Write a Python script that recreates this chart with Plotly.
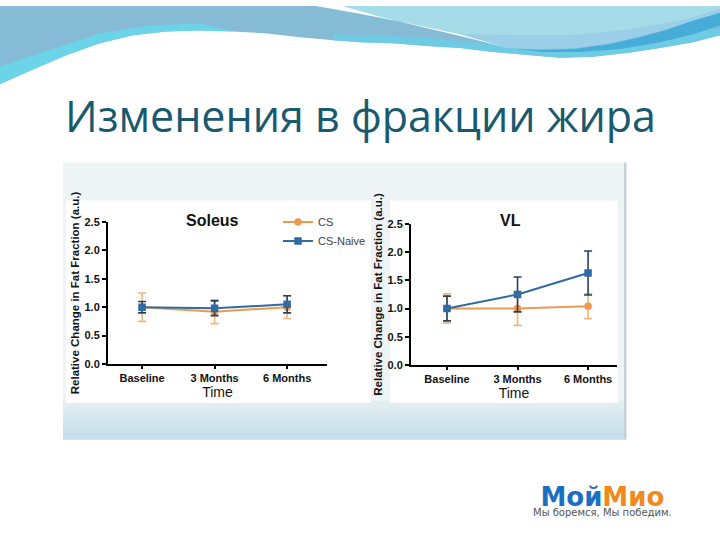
import plotly.graph_objects as go

# ---------------- data ----------------
categories = ["Baseline", "3 Months", "6 Months"]

soleus_cs = [1.00, 0.92, 1.00]
soleus_cs_err = [0.25, 0.21, 0.20]
soleus_naive = [1.00, 0.98, 1.05]
soleus_naive_err = [0.10, 0.13, 0.15]

vl_cs = [1.00, 1.00, 1.04]
vl_cs_err = [0.26, 0.30, 0.22]
vl_naive = [1.00, 1.25, 1.63]
vl_naive_err = [0.22, 0.31, 0.39]

series_names = ["CS", "CS-Naive"]
panel_titles = ["Soleus", "VL"]
slide_title = "Изменения в фракции жира"
y_title = "Relative Change in Fat Fraction (a.u.)"
x_title = "Time"
y_ticks = [0.0, 0.5, 1.0, 1.5, 2.0, 2.5]

# ---------------- styles ----------------
W, H = 720, 540
CS_COLOR = "#ec9a52"
CS_ERR = "#f3b57c"
NAIVE_COLOR = "#2f6aa3"
NAIVE_ERR = "#27415e"
FONT = "Liberation Sans"


def X(px):
    return px / W


def Y(py):
    return 1 - py / H


def poly(pts):
    s = "M " + " L ".join(f"{X(a):.5f},{Y(b):.5f}" for a, b in pts)
    return s + " Z"


fig = go.Figure()

panels = [
    (soleus_cs, soleus_cs_err, soleus_naive, soleus_naive_err, "x", "y", True),
    (vl_cs, vl_cs_err, vl_naive, vl_naive_err, "x2", "y2", False),
]
for cs, cse, nv, nve, xa, ya, show in panels:
    fig.add_trace(go.Scatter(
        x=categories, y=cs, name=series_names[0], xaxis=xa, yaxis=ya,
        mode="lines+markers", showlegend=show,
        line=dict(color=CS_COLOR, width=2),
        marker=dict(symbol="circle", size=7.5, color=CS_COLOR),
        error_y=dict(type="data", array=cse, visible=True, color=CS_ERR,
                     thickness=1.6, width=4),
    ))
    fig.add_trace(go.Scatter(
        x=categories, y=nv, name=series_names[1], xaxis=xa, yaxis=ya,
        mode="lines+markers", showlegend=show,
        line=dict(color=NAIVE_COLOR, width=2),
        marker=dict(symbol="square", size=7.5, color=NAIVE_COLOR),
        error_y=dict(type="data", array=nve, visible=True, color=NAIVE_ERR,
                     thickness=1.6, width=4),
    ))

axis_common = dict(
    showline=True, linewidth=2, linecolor="black", showgrid=False,
    zeroline=False, ticks="outside", tickcolor="black", tickwidth=1.5,
    tickfont=dict(family=FONT, size=11, color="#111", weight="bold"),
)

xcommon = dict(axis_common, type="category", ticklen=3,
               title=dict(text=x_title, standoff=1,
                          font=dict(family=FONT, size=14, color="#111")))
ycommon = dict(axis_common, range=[0, 2.5], tickvals=y_ticks,
               tickformat=".1f", ticklen=4,
               title=dict(text=y_title, standoff=2,
                          font=dict(family=FONT, size=11.5, color="#111", weight="bold")))

fig.update_layout(
    width=W, height=H,
    margin=dict(l=0, r=0, t=0, b=0),
    paper_bgcolor="white",
    plot_bgcolor="rgba(0,0,0,0)",
    xaxis=dict(xcommon, domain=[X(108), X(327)], range=[-0.47, 2.55], anchor="y"),
    yaxis=dict(ycommon, domain=[Y(366), Y(221)], anchor="x"),
    xaxis2=dict(xcommon, domain=[X(411), X(617)], range=[-0.51, 2.41], anchor="y2"),
    yaxis2=dict(ycommon, domain=[Y(367), Y(223)], anchor="x2"),
    legend=dict(x=X(278), y=Y(206), xanchor="left", yanchor="top",
                bgcolor="rgba(0,0,0,0)", itemwidth=30, tracegroupgap=0,
                font=dict(family=FONT, size=11, color="#444")),
    showlegend=True,
)

shapes = []


def pshape(pts, color, opacity=1.0):
    return dict(type="path", path=poly(pts), fillcolor=color, opacity=opacity,
                line=dict(width=0), xref="paper", yref="paper", layer="below")


# ---- top waves ----
wave_edge = [(0, 80), (33, 65), (67, 50), (100, 38), (133, 30), (167, 26),
             (200, 25), (233, 26), (267, 28), (300, 32), (333, 35), (360, 37),
             (393, 38), (427, 41), (460, 43), (493, 47), (527, 50), (560, 53),
             (593, 52), (627, 48), (660, 43), (693, 37), (720, 30)]
shapes.append(pshape([(0, 0), (720, 0)] + wave_edge[::-1], "#86bbd6"))
cyan = wave_edge[:8] + [(200, 18), (150, 20), (100, 28), (50, 45), (0, 62)]
shapes.append(pshape(cyan, "#66d8ec", 0.85))
band = wave_edge[10:] + [(720, 22), (660, 34), (600, 42), (540, 44), (480, 38), (420, 32), (333, 29)]
shapes.append(pshape(band, "#6ccde6", 0.9))
light = [(318, 0), (360, 8), (410, 18), (460, 29), (510, 43), (540, 44),
         (575, 43), (610, 38), (640, 31), (665, 24), (693, 15), (720, 7), (720, 0)]
shapes.append(pshape(light, "#a6dbe8"))
light_low = [(450, 28), (480, 36), (510, 43), (540, 44), (575, 43), (610, 38),
             (640, 31), (665, 24), (693, 15), (720, 7), (720, 3), (680, 15),
             (630, 24), (570, 30), (510, 30)]
shapes.append(pshape(light_low, "#95c9ea", 0.75))
dark = [(515, 44), (540, 45), (575, 44), (610, 39), (640, 32), (665, 25),
        (693, 15), (720, 7), (720, 20), (693, 29), (660, 37), (620, 44),
        (580, 47), (545, 47)]
shapes.append(pshape(dark, "#46acd8"))
streak = [(316, 0), (360, 8), (410, 18), (460, 29), (512, 44),
          (470, 33), (420, 21), (380, 11), (342, 0)]
shapes.append(pshape(streak, "#ffffff"))


# ---- picture backdrop ----
def rect(x0, y0, x1, y1, color):
    return dict(type="rect", xref="paper", yref="paper", x0=X(x0), x1=X(x1),
                y0=Y(y1), y1=Y(y0), fillcolor=color, line=dict(width=0),
                layer="below")


shapes.append(rect(63, 160, 626, 443, "#eef4f6"))
band_colors = ["#e2edf2", "#dceaf0", "#d6e7ef", "#d1e4ed", "#cce1eb", "#c7deea"]
y0 = 404
step = (443 - 404) / len(band_colors)
for i, c in enumerate(band_colors):
    shapes.append(rect(63, y0 + i * step, 626, y0 + (i + 1) * step + 0.5, c))
shapes.append(rect(624, 160, 626.5, 443, "#c4d2d8"))
shapes.append(rect(66, 199, 371, 406, "white"))
shapes.append(rect(390, 199, 618, 406, "white"))

fig.update_layout(shapes=shapes)

logo_text = ("<b><span style='font-size:26px'><span style='color:#1a6fc2'>Мой</span>"
             "<span style='color:#f0891e'>Мио</span></span></b><br>"
             "<span style='font-size:10px;color:#555'>Мы боремся, Мы победим.</span>")

annotations = [
    dict(text=slide_title, x=X(360), y=Y(112), xref="paper", yref="paper",
         showarrow=False, xanchor="center", yanchor="middle",
         font=dict(family="Open Sans", size=43, color="#195a6f")),
    dict(text=panel_titles[0], x=X(212), y=Y(219), xref="paper", yref="paper",
         showarrow=False, xanchor="center", yanchor="middle",
         font=dict(family=FONT, size=16, color="#111", weight="bold")),
    dict(text=panel_titles[1], x=X(510), y=Y(219), xref="paper", yref="paper",
         showarrow=False, xanchor="center", yanchor="middle",
         font=dict(family=FONT, size=16, color="#111", weight="bold")),
    dict(text=logo_text, x=X(602), y=Y(505), xref="paper", yref="paper",
         showarrow=False, xanchor="center", yanchor="middle", align="center",
         font=dict(family="DejaVu Sans", size=7.5, color="#555")),
]
fig.update_layout(annotations=annotations)

fig.write_html("out.html", config={"displayModeBar": False},
               post_script="document.body.style.margin='0';")
